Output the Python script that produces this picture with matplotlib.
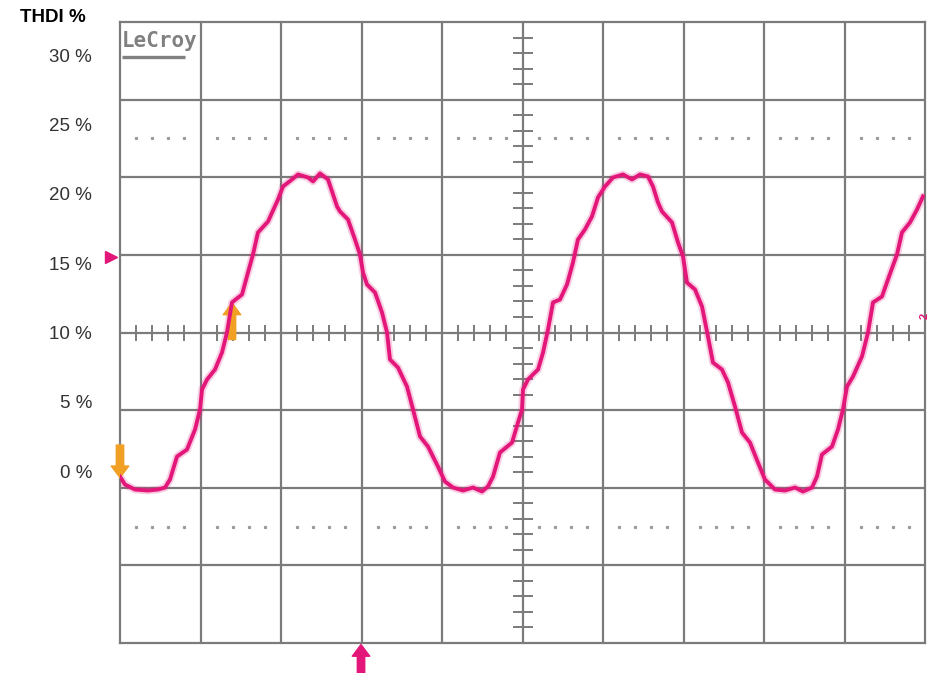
import numpy as np
import matplotlib.pyplot as plt

plt.rcParams['font.family'] = ['Liberation Sans', 'DejaVu Sans']

# trace: time and amplitude in divisions
t_div = [0.000, 0.062, 0.186, 0.348, 0.472, 0.559, 0.621, 0.708, 0.832, 0.932,
         0.994, 1.019, 1.081, 1.180, 1.267, 1.329, 1.391, 1.516, 1.590, 1.652,
         1.714, 1.839, 1.963, 2.025, 2.137, 2.211, 2.335, 2.398, 2.484, 2.584,
         2.696, 2.733, 2.832, 2.919, 2.981, 3.019, 3.068, 3.168, 3.255, 3.317,
         3.354, 3.453, 3.565, 3.640, 3.727, 3.826, 3.950, 4.037, 4.137, 4.261,
         4.385, 4.497, 4.571, 4.634, 4.720, 4.870, 4.944, 4.994, 5.006, 5.068,
         5.155, 5.193, 5.255, 5.317, 5.379, 5.466, 5.553, 5.627, 5.689, 5.776,
         5.863, 5.938, 6.025, 6.124, 6.248, 6.360, 6.460, 6.559, 6.621, 6.683,
         6.733, 6.857, 6.932, 6.994, 7.043, 7.143, 7.230, 7.304, 7.366, 7.478,
         7.553, 7.640, 7.727, 7.826, 7.925, 8.012, 8.137, 8.261, 8.385, 8.484,
         8.596, 8.658, 8.720, 8.845, 8.919, 8.981, 9.031, 9.106, 9.217, 9.292,
         9.354, 9.466, 9.540, 9.652, 9.714, 9.814, 9.901, 9.975]
v_div = [-1.856, -1.959, -2.023, -2.036, -2.023, -1.997, -1.894, -1.598, -1.508, -1.250,
         -0.992, -0.735, -0.606, -0.477, -0.258, 0.000, 0.387, 0.490, 0.773, 1.005,
         1.289, 1.430, 1.714, 1.881, 1.972, 2.036, 1.997, 1.946, 2.049, 1.972,
         1.624, 1.559, 1.456, 1.198, 1.005, 0.773, 0.619, 0.515, 0.258, 0.000,
         -0.348, -0.451, -0.696, -0.992, -1.340, -1.469, -1.727, -1.920, -1.997, -2.036,
         -1.997, -2.049, -1.984, -1.856, -1.546, -1.418, -1.160, -0.992, -0.735, -0.606,
         -0.515, -0.477, -0.258, 0.039, 0.387, 0.425, 0.619, 0.902, 1.198, 1.327,
         1.495, 1.740, 1.881, 1.997, 2.036, 1.972, 2.036, 2.010, 1.881, 1.675,
         1.559, 1.418, 1.160, 0.979, 0.644, 0.554, 0.335, -0.052, -0.387, -0.477,
         -0.644, -0.954, -1.289, -1.418, -1.675, -1.894, -2.023, -2.036, -1.997, -2.049,
         -1.997, -1.856, -1.572, -1.469, -1.250, -0.992, -0.696, -0.567, -0.309, 0.000,
         0.387, 0.464, 0.683, 1.005, 1.289, 1.418, 1.585, 1.753]

pct_ticks = [0, 5, 10, 15, 20, 25, 30]
pct_per_div = 5.6     # THDI % per division, 10 % on the centre line

trace_col = "#e3177a"
grid_col = "#7b7b7b"
orange = "#f2a024"

fig = plt.figure(figsize=(9.33, 6.73), dpi=100)
ax = fig.add_axes([120/933, 30/673, 805/933, 621/673])
ax.set_xlim(0, 10)
ax.set_ylim(-4, 4)
ax.set_xticks([])
ax.set_yticks([])
for s in ax.spines.values():
    s.set_color(grid_col)
    s.set_linewidth(1.6)

# graticule
for x in range(1, 10):
    ax.axvline(x, color=grid_col, lw=1.6, zorder=1)
for y in range(-3, 4):
    ax.axhline(y, color=grid_col, lw=1.6, zorder=1)

# minor ticks on the centre lines
minor = [k/5 for k in range(1, 50) if k % 5]
ax.plot(minor, [0]*len(minor), ls="none", marker="|", ms=11, mew=1.4, color=grid_col, zorder=1)
minor_v = [k/5 - 4 for k in range(1, 40) if k % 5]
ax.plot([5]*len(minor_v), minor_v, ls="none", marker="_", ms=14, mew=1.4, color=grid_col, zorder=1)

# dotted rows at +-2.5 div
for y in (2.5, -2.5):
    ax.plot(minor, [y]*len(minor), ls="none", marker="s", ms=1.3, color="#9a9a9a", zorder=1)

# trace
ax.plot(t_div, v_div, color=trace_col, lw=5.5, alpha=0.22, zorder=3, solid_capstyle="round")
ax.plot(t_div, v_div, color=trace_col, lw=2.8, zorder=4, solid_joinstyle="round")

# logo
ax.text(0.02, 3.88, "LeCroy", family="DejaVu Sans Mono", weight="bold", fontsize=15,
        color="#808080", va="top", ha="left")
ax.plot([0.03, 0.81], [3.55, 3.55], color="#808080", lw=2.4, solid_capstyle="butt")

# level / trigger markers
ax.plot([-0.11], [0.97], marker=">", ms=9, color=trace_col, clip_on=False)
ax.plot([10.17], [0.97], marker="<", ms=9, color=trace_col, clip_on=False)
ax.text(10.0, 0.22, "2", rotation=90, color=trace_col, fontsize=8, weight="bold",
        ha="center", va="center", clip_on=False)

arrow = "simple,head_length=0.6,head_width=0.9,tail_width=0.38"
ax.annotate("", xy=(0, -1.87), xytext=(0, -1.45),
            arrowprops=dict(arrowstyle=arrow, color=orange, mutation_scale=14, shrinkA=0, shrinkB=0),
            annotation_clip=False)
ax.annotate("", xy=(1.391, 0.38), xytext=(1.391, -0.09),
            arrowprops=dict(arrowstyle=arrow, color=orange, mutation_scale=14, shrinkA=0, shrinkB=0),
            annotation_clip=False)
ax.annotate("", xy=(2.994, -4.02), xytext=(2.994, -4.42),
            arrowprops=dict(arrowstyle=arrow, color=trace_col, mutation_scale=14, shrinkA=0, shrinkB=0),
            annotation_clip=False)

# THDI % scale on the left
sec = ax.secondary_yaxis("left", functions=(lambda d: 10 + d*pct_per_div,
                                            lambda p: (p - 10)/pct_per_div))
sec.set_yticks(pct_ticks, labels=[f"{p} %" for p in pct_ticks])
sec.tick_params(length=0, pad=20, labelsize=13.5, labelcolor="#333333")
sec.spines["left"].set_visible(False)

fig.text(20/933, 1 - 18/673, "THDI %", fontsize=13.5, weight="bold", va="center", ha="left")

fig.savefig("out.png", dpi=100)
